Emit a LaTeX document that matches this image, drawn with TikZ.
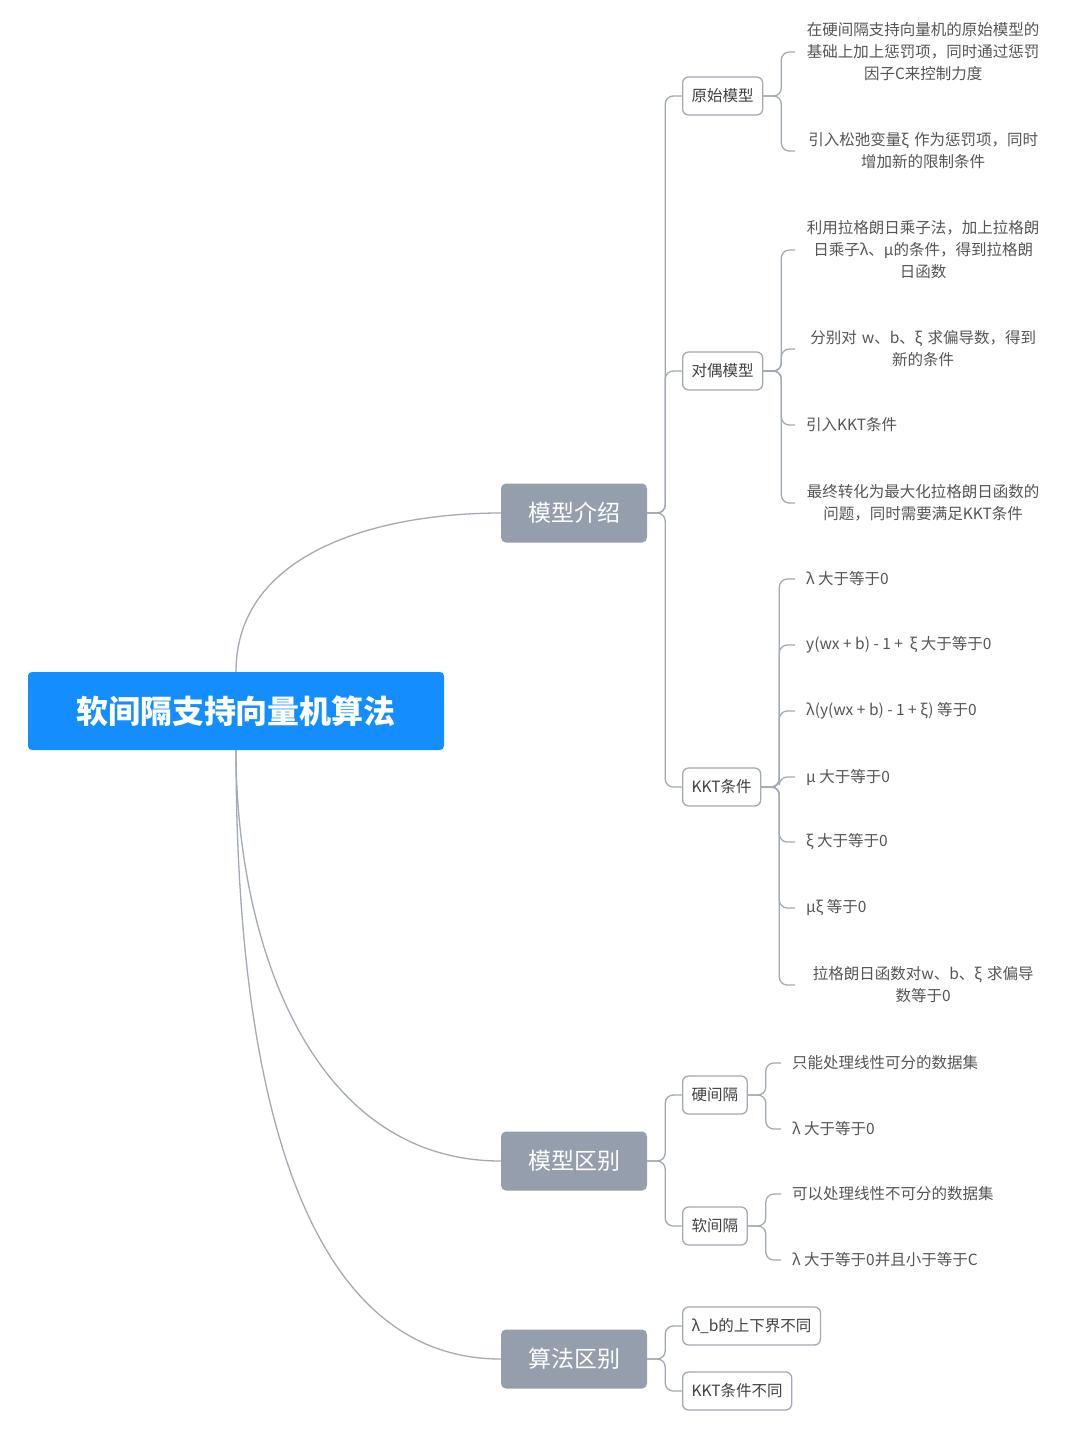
\documentclass[tikz,border=0pt]{standalone}
\usepackage{fontspec}
\setmainfont{Noto Sans CJK SC}
\usetikzlibrary{positioning}
\definecolor{rootblue}{RGB}{20,142,255}
\definecolor{topicgray}{RGB}{148,158,172}
\definecolor{linegray}{RGB}{162,170,181}
\definecolor{textgray}{RGB}{85,85,85}

\begin{document}
\begin{tikzpicture}[x=1pt,y=-1pt]
\tikzstyle{every node}=[font=\fontsize{15.5}{22}\selectfont, text=textgray]
\tikzstyle{rootbox}=[rectangle, rounded corners=4pt, fill=rootblue, text=white, minimum width=416pt, minimum height=78pt, font=\fontsize{32}{36}\selectfont\bfseries]
\tikzstyle{topic}=[rectangle, rounded corners=5pt, fill=topicgray, text=white, minimum width=146pt, minimum height=59pt, font=\fontsize{23}{26}\selectfont]
\tikzstyle{subtopic}=[rectangle, rounded corners=6pt, draw=linegray, line width=1.3pt, fill=white, minimum height=38pt, inner xsep=9pt, anchor=west, text=black!75]
\tikzstyle{leaf}=[anchor=west, inner xsep=11pt, align=center]
\tikzstyle{leafwide}=[leaf, text width=234pt]
\tikzstyle{every edge}=[draw=linegray, line width=1.3pt, rounded corners=8pt]
\tikzstyle{fork}=[to path={(\tikztostart.east) -- ++(18,0) |- (\tikztotarget.west)}]

\fill[white] (0,0) rectangle (1080,1436);
\useasboundingbox (0,0) rectangle (1080,1436);

% centre and main topics
\node[rootbox] (root) at (236,711) {软间隔支持向量机算法};
\node[topic] (intro) at (574,513) {模型介绍};
\node[topic] (diff) at (574,1161) {模型区别};
\node[topic] (algo) at (574,1359) {算法区别};

\draw (root.north) edge[out=90,in=180] (intro.west);
\draw (root.south) edge[out=-90,in=180] (diff.west)
                   edge[out=-90,in=180,looseness=0.9] (algo.west);

% 模型介绍
\node[subtopic] (primal) at (682,96) {原始模型};
\node[subtopic] (dual) at (682,371) {对偶模型};
\node[subtopic] (kkt) at (682,787) {KKT条件};

\draw (intro) edge[fork] (primal)
              edge[fork] (dual)
              edge[fork] (kkt);

\node[leafwide] (p1) at (795,52) {在硬间隔支持向量机的原始模型的\\基础上加上惩罚项，同时通过惩罚\\因子C来控制力度};
\node[leafwide] (p2) at (795,151) {引入松弛变量ξ 作为惩罚项，同时\\增加新的限制条件};

\draw (primal) edge[fork] (p1)
               edge[fork] (p2);

\node[leafwide] (d1) at (795,250) {利用拉格朗日乘子法，加上拉格朗\\日乘子λ、μ的条件，得到拉格朗\\日函数};
\node[leafwide] (d2) at (795,349) {分别对 w、b、ξ 求偏导数，得到\\新的条件};
\node[leaf] (d3) at (795,425) {引入KKT条件};
\node[leafwide] (d4) at (795,503) {最终转化为最大化拉格朗日函数的\\问题，同时需要满足KKT条件};

\draw (dual) edge[fork] (d1)
             edge[fork] (d2)
             edge[fork] (d3)
             edge[fork] (d4);

\node[leaf] (k1) at (795,579) {λ 大于等于0};
\node[leaf] (k2) at (795,645) {y(wx + b) - 1 +\ \ ξ 大于等于0};
\node[leaf] (k3) at (795,711) {λ(y(wx + b) - 1 + ξ) 等于0};
\node[leaf] (k4) at (795,777) {μ 大于等于0};
\node[leaf] (k5) at (795,842) {ξ 大于等于0};
\node[leaf] (k6) at (795,908) {μξ 等于0};
\node[leafwide] (k7) at (795,985) {拉格朗日函数对w、b、ξ 求偏导\\数等于0};

\draw (kkt) edge[fork] (k1)
            edge[fork] (k2)
            edge[fork] (k3)
            edge[fork] (k4)
            edge[fork] (k5)
            edge[fork] (k6)
            edge[fork] (k7);

% 模型区别
\node[subtopic] (hard) at (682,1095) {硬间隔};
\node[subtopic] (soft) at (682,1226) {软间隔};

\draw (diff) edge[fork] (hard)
             edge[fork] (soft);

\node[leaf] (h1) at (781,1063) {只能处理线性可分的数据集};
\node[leaf] (h2) at (781,1129) {λ 大于等于0};
\node[leaf] (s1) at (781,1194) {可以处理线性不可分的数据集};
\node[leaf] (s2) at (781,1260) {λ 大于等于0并且小于等于C};

\draw (hard) edge[fork] (h1)
             edge[fork] (h2);
\draw (soft) edge[fork] (s1)
             edge[fork] (s2);

% 算法区别
\node[subtopic] (bound) at (682,1326) {λ\_b的上下界不同};
\node[subtopic] (kktdiff) at (682,1391) {KKT条件不同};

\draw (algo) edge[fork] (bound)
             edge[fork] (kktdiff);
\end{tikzpicture}
\end{document}
